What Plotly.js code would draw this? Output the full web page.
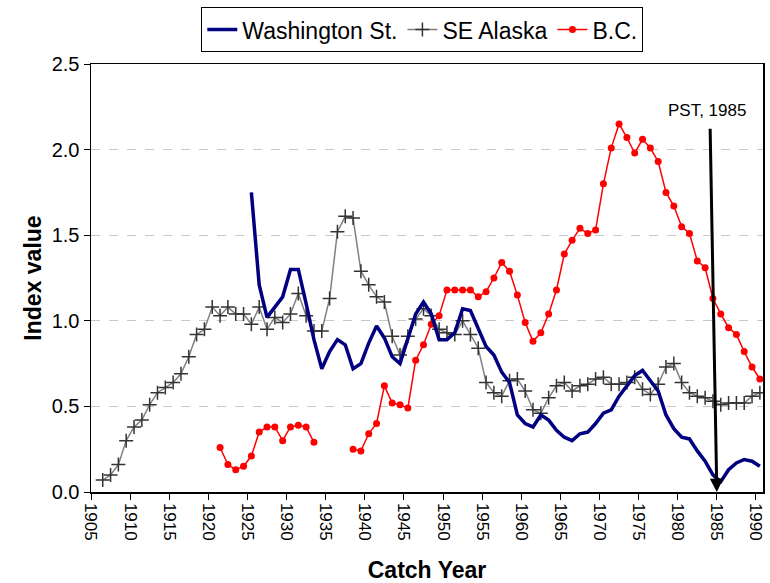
<!DOCTYPE html>
<html>
<head>
<meta charset="utf-8">
<script src="https://cdn.plot.ly/plotly-3.0.1.min.js"></script>
<style>html,body{margin:0;padding:0;background:#fff;}#chart{width:770px;height:583px;}</style>
</head>
<body>
<div id="chart"></div>
<script>
// ---- Data ----
const seYears = [1906,1907,1908,1909,1910,1911,1912,1913,1914,1915,1916,1917,1918,1919,1920,
  1921,1922,1923,1924,1925,1926,1927,1928,1929,1930,1931,1932,1933,1934,1935,1936,1937,1938,1939,
  1940,1941,1942,1943,1944,1945,1946,1947,1948,1949,1950,1951,1952,1953,1954,1955,1956,1957,1958,
  1959,1960,1961,1962,1963,1964,1965,1966,1967,1968,1969,1970,1971,1972,1973,1974,1975,1976,1977,
  1978,1979,1980,1981,1982,1983,1984,1985,1986,1987,1988,1989,1990];
const seAlaska = [0.07,0.10,0.16,0.30,0.38,0.42,0.51,0.58,0.61,0.64,0.69,0.79,0.92,0.95,1.08,
  1.03,1.08,1.04,1.04,0.98,1.08,0.95,1.02,0.99,1.04,1.16,1.03,0.94,0.94,1.13,1.52,1.61,1.60,1.29,
  1.21,1.14,1.11,0.91,0.80,0.91,1.01,1.07,1.03,0.95,0.93,0.92,1.00,0.92,0.84,0.64,0.58,0.56,0.65,
  0.66,0.59,0.48,0.46,0.55,0.62,0.64,0.59,0.62,0.63,0.66,0.67,0.63,0.63,0.64,0.67,0.60,0.57,0.63,
  0.73,0.75,0.64,0.58,0.56,0.55,0.53,0.51,0.52,0.52,0.52,0.56,0.58];

const waYears = [1925,1926,1927,1928,1929,1930,1931,1932,1933,1934,1935,1936,1937,1938,1939,
  1940,1941,1942,1943,1944,1945,1946,1947,1948,1949,1950,1951,1952,1953,1954,1955,1956,1957,1958,
  1959,1960,1961,1962,1963,1964,1965,1966,1967,1968,1969,1970,1971,1972,1973,1974,1975,1976,1977,
  1978,1979,1980,1981,1982,1983,1984,1985,1986,1987,1988,1989,1990];
const washington = [1.75,1.21,1.02,1.08,1.14,1.30,1.30,1.10,0.89,0.72,0.82,0.89,0.86,0.72,0.75,
  0.87,0.97,0.90,0.79,0.75,0.89,1.04,1.11,1.04,0.89,0.89,0.93,1.07,1.06,0.96,0.85,0.80,0.70,0.64,
  0.45,0.40,0.38,0.45,0.42,0.36,0.32,0.30,0.34,0.35,0.40,0.46,0.48,0.56,0.62,0.68,0.71,0.65,0.59,
  0.45,0.37,0.32,0.31,0.24,0.18,0.10,0.06,0.13,0.17,0.19,0.18,0.15];

const bcYears = [1921,1922,1923,1924,1925,1926,1927,1928,1929,1930,1931,1932,1933,1934,1935,1936,1937,
  1938,1939,1940,1941,1942,1943,1944,1945,1946,1947,1948,1949,1950,1951,1952,1953,1954,1955,1956,
  1957,1958,1959,1960,1961,1962,1963,1964,1965,1966,1967,1968,1969,1970,1971,1972,1973,1974,1975,
  1976,1977,1978,1979,1980,1981,1982,1983,1984,1985,1986,1987,1988,1989,1990];
const bc = [0.26,0.16,0.13,0.15,0.21,0.35,0.38,0.38,0.30,0.38,0.39,0.38,0.29,null,null,null,null,
  0.25,0.24,0.34,0.40,0.62,0.52,0.51,0.49,0.77,0.86,0.98,1.03,1.18,1.18,1.18,1.18,1.14,1.17,1.25,
  1.34,1.29,1.15,0.99,0.88,0.93,1.04,1.18,1.39,1.47,1.54,1.51,1.53,1.80,2.01,2.15,2.07,1.98,2.06,
  2.01,1.93,1.75,1.67,1.55,1.51,1.35,1.31,1.13,1.04,0.96,0.92,0.82,0.73,0.66];

const tickLabels = ['1905','1910','1915','1920','1925','1930','1935','1940','1945','1950',
  '1955','1960','1965','1970','1975','1980','1985','1990'];
const pstLabel = 'PST, 1985';
const pstYear = 1985;

// category boundaries sit half a year before each year's point
const tickPos = tickLabels.map(t => Number(t) - 0.5);

const FONT = 'Liberation Sans, Arial, Helvetica, sans-serif';

const traces = [
  {
    x: seYears, y: seAlaska, name: 'SE Alaska', type: 'scatter', mode: 'lines+markers',
    line: {color: '#808080', width: 1.5},
    marker: {symbol: 'cross-thin', size: 10, color: '#333333', line: {color: '#333333', width: 1.5}},
    legendrank: 2
  },
  {
    x: bcYears, y: bc, name: 'B.C.', type: 'scatter', mode: 'lines+markers',
    line: {color: '#FF0000', width: 1.5},
    marker: {symbol: 'circle', size: 7, color: '#FF0000'},
    connectgaps: false,
    legendrank: 3
  },
  {
    x: waYears, y: washington, name: 'Washington St.', type: 'scatter', mode: 'lines',
    line: {color: '#000080', width: 3.5},
    legendrank: 1
  }
];

const layout = {
  width: 770, height: 583,
  margin: {l: 91, r: 7, t: 64, b: 91},
  paper_bgcolor: '#ffffff', plot_bgcolor: '#ffffff',
  font: {family: FONT, color: '#000000', size: 17},
  showlegend: true,
  legend: {
    orientation: 'h', x: 0.493, xanchor: 'center', y: 1.133, yanchor: 'top',
    bordercolor: '#000000', borderwidth: 1, font: {size: 23, family: FONT},
    traceorder: 'normal', itemwidth: 30
  },
  xaxis: {
    range: [1904.5, 1990.4],
    tickmode: 'array', tickvals: tickPos, ticktext: tickLabels,
    tickangle: 90, ticks: 'outside', ticklen: 6, tickcolor: '#000',
    showline: true, mirror: true, linecolor: '#000', linewidth: 1.5,
    showgrid: false, zeroline: false,
    tickfont: {size: 17},
    title: {text: '<b>Catch Year</b>', font: {size: 23}, standoff: 25}
  },
  yaxis: {
    range: [0, 2.5], dtick: 0.5, tick0: 0, tickformat: '.1f',
    ticks: 'outside', ticklen: 6, tickcolor: '#000',
    showline: true, mirror: true, linecolor: '#000', linewidth: 1.5,
    showgrid: true, gridcolor: '#c8c8c8', griddash: 'dash', gridwidth: 1,
    zeroline: false,
    tickfont: {size: 20},
    title: {text: '<b>Index value</b>', font: {size: 23}, standoff: 3}
  },
  annotations: [
    {
      x: pstYear - 0.5, y: 0, xref: 'x', yref: 'y',
      ax: pstYear - 1.36, ay: 2.13, axref: 'x', ayref: 'y',
      text: '', showarrow: true, arrowhead: 2, arrowsize: 0.9, arrowwidth: 3, arrowcolor: '#000'
    },
    {
      x: pstYear - 1.74, y: 2.23, xref: 'x', yref: 'y',
      text: pstLabel, showarrow: false, font: {size: 17, color: '#000'},
      xanchor: 'center', yanchor: 'middle'
    }
  ]
};

Plotly.newPlot('chart', traces, layout, {displayModeBar: false, staticPlot: true});
</script>
</body>
</html>
